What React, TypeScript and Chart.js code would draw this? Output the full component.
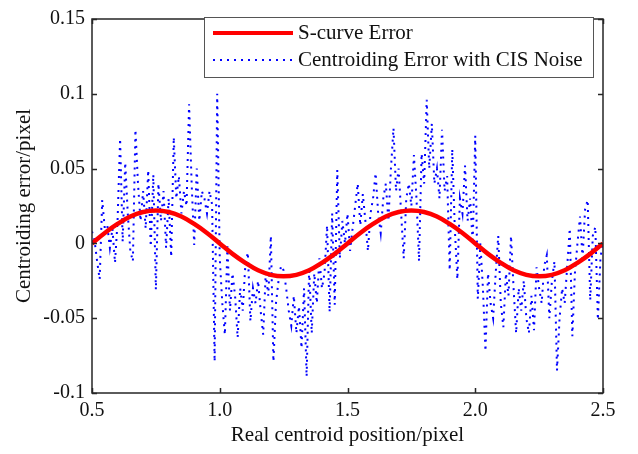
import React, { useEffect, useRef } from 'react';
import { Chart, registerables } from 'chart.js';

Chart.register(...registerables);

const xRange = [0.5, 2.5];
const yRange = [-0.1, 0.15];
const xTickLabels = ['0.5', '1.0', '1.5', '2.0', '2.5'];
const yTickLabels = ['-0.1', '-0.05', '0', '0.05', '0.1', '0.15'];
const seriesLabels = ['S-curve Error', 'Centroiding Error with CIS Noise'];
const axisTitles = ['Real centroid position/pixel', 'Centroiding error/pixel'];

const sCurveX = [
  0.5, 0.55, 0.6, 0.65, 0.7, 0.75, 0.8, 0.85, 0.9, 0.95,
  1.0, 1.05, 1.1, 1.15, 1.2, 1.25, 1.3, 1.35, 1.4, 1.45,
  1.5, 1.55, 1.6, 1.65, 1.7, 1.75, 1.8, 1.85, 1.9, 1.95,
  2.0, 2.05, 2.1, 2.15, 2.2, 2.25, 2.3, 2.35, 2.4, 2.45, 2.5,
];
const sCurveY = [
  0, 0.007, 0.013, 0.018, 0.021, 0.022, 0.021, 0.018, 0.013, 0.007,
  0, -0.007, -0.013, -0.018, -0.021, -0.022, -0.021, -0.018, -0.013, -0.007,
  0, 0.007, 0.013, 0.018, 0.021, 0.022, 0.021, 0.018, 0.013, 0.007,
  0, -0.007, -0.013, -0.018, -0.021, -0.022, -0.021, -0.018, -0.013, -0.007, 0,
];

// noisy samples, one every 0.01 pixel from 0.5 to 2.5
const noiseStartX = 0.5;
const noiseStepX = 0.01;
const noiseY = [
  0.008, 0.002, -0.012, -0.024, 0.029, 0.010, 0.012, -0.003, 0.010, -0.013,
  0.015, 0.070, 0.001, 0.054, 0.020, -0.005, -0.012, 0.076, 0.040, 0.015,
  0.035, 0.010, 0.049, -0.002, 0.046, -0.031, 0.040, 0.015, 0.035, -0.003,
  0.030, -0.009, 0.071, 0.030, 0.045, 0.020, 0.035, 0.025, 0.093, 0.040,
  -0.001, 0.050, 0.015, 0.035, 0.030, 0.020, 0.035, 0.026, -0.079, 0.100,
  -0.010, -0.040, -0.061, -0.002, -0.045, -0.020, -0.035, -0.063, -0.030, -0.045,
  -0.015, -0.006, -0.052, -0.030, -0.040, -0.025, -0.045, -0.061, -0.020, -0.035,
  0.005, -0.079, -0.040, -0.025, -0.015, -0.018, -0.030, -0.045, -0.055, -0.035,
  -0.060, -0.042, -0.070, -0.030, -0.089, -0.016, -0.060, -0.020, -0.040, -0.010,
  -0.030, -0.020, 0.012, -0.046, 0.020, -0.041, 0.049, -0.010, 0.015, 0.000,
  0.020, -0.005, 0.010, 0.025, 0.040, 0.012, 0.033, 0.015, -0.005, 0.020,
  0.030, 0.047, 0.020, 0.007, 0.030, 0.040, 0.015, 0.050, 0.077, 0.035,
  0.050, 0.020, -0.010, 0.030, 0.040, 0.025, 0.059, 0.030, -0.012, 0.060,
  0.040, 0.096, 0.050, 0.080, 0.040, 0.050, 0.030, 0.076, 0.035, 0.045,
  -0.018, 0.063, 0.010, -0.024, 0.030, 0.020, 0.052, 0.015, 0.030, 0.000,
  0.072, -0.037, 0.000, -0.030, -0.072, -0.020, -0.040, -0.050, -0.020, 0.005,
  -0.040, -0.056, -0.020, -0.035, 0.005, -0.030, -0.060, -0.030, -0.045, -0.025,
  -0.050, -0.060, -0.035, -0.058, -0.016, -0.030, -0.040, -0.015, -0.008, -0.050,
  -0.025, -0.012, -0.085, -0.050, -0.030, -0.040, -0.015, 0.010, -0.062, -0.020,
  0.000, 0.018, -0.010, 0.023, 0.029, -0.038, 0.005, 0.011, -0.051, -0.010,
  0.002,
];

const FONT = "'Liberation Serif', 'Times New Roman', serif";
const TEXT = '#111111';
const AXIS = '#262626';
const RED = '#ff0000';
const BLUE = '#0000ff';
const BLUE_DASH = [2, 5];

const framePlugin = {
  id: 'matlabFrame',
  afterDatasetsDraw(chart: any) {
    const { ctx, chartArea } = chart;
    const { left, right, top, bottom } = chartArea;
    const xs = chart.scales.x;
    const ys = chart.scales.y;
    const tl = 5;
    ctx.save();
    ctx.strokeStyle = AXIS;
    ctx.lineWidth = 1.5;
    ctx.setLineDash([]);
    ctx.strokeRect(left, top, right - left, bottom - top);
    ctx.beginPath();
    xs.ticks.forEach((t: any) => {
      const px = Math.round(xs.getPixelForValue(t.value)) + 0.5;
      ctx.moveTo(px, bottom);
      ctx.lineTo(px, bottom - tl);
      ctx.moveTo(px, top);
      ctx.lineTo(px, top + tl);
    });
    ys.ticks.forEach((t: any) => {
      const py = Math.round(ys.getPixelForValue(t.value)) + 0.5;
      ctx.moveTo(left, py);
      ctx.lineTo(left + tl, py);
      ctx.moveTo(right, py);
      ctx.lineTo(right - tl, py);
    });
    ctx.stroke();

    // legend
    const lx = 204, ly = 17, lw = 389, lh = 60;
    ctx.fillStyle = '#ffffff';
    ctx.fillRect(lx, ly, lw, lh);
    ctx.strokeStyle = '#555555';
    ctx.lineWidth = 1;
    ctx.strokeRect(lx + 0.5, ly + 0.5, lw, lh);
    const rows = [33, 60];
    chart.data.datasets.forEach((ds: any, i: number) => {
      const y = rows[i];
      ctx.save();
      ctx.strokeStyle = ds.borderColor;
      ctx.lineWidth = i === 0 ? 4 : 2;
      ctx.setLineDash(ds.borderDash || []);
      ctx.beginPath();
      ctx.moveTo(213, y);
      ctx.lineTo(293, y);
      ctx.stroke();
      ctx.restore();
      ctx.fillStyle = TEXT;
      ctx.font = `21px ${FONT}`;
      ctx.textBaseline = 'middle';
      ctx.textAlign = 'left';
      ctx.fillText(ds.label, 298, y);
    });
    ctx.restore();
  },
};

export default function App() {
  const canvasRef = useRef<HTMLCanvasElement | null>(null);

  useEffect(() => {
    document.body.style.margin = '0';
    const canvas = canvasRef.current;
    if (!canvas) return;
    const noiseData = noiseY.map((y, i) => ({ x: +(noiseStartX + i * noiseStepX).toFixed(2), y }));
    const sData = sCurveX.map((x, i) => ({ x, y: sCurveY[i] }));
    const chart = new Chart(canvas, {
      type: 'line',
      data: {
        datasets: [
          {
            label: seriesLabels[0],
            data: sData,
            borderColor: RED,
            backgroundColor: RED,
            borderWidth: 4.5,
            pointRadius: 0,
            tension: 0.4,
            fill: false,
          },
          {
            label: seriesLabels[1],
            data: noiseData,
            borderColor: BLUE,
            backgroundColor: BLUE,
            borderWidth: 2,
            borderDash: BLUE_DASH,
            pointRadius: 0,
            tension: 0,
            fill: false,
          },
        ],
      },
      options: {
        animation: false,
        responsive: false,
        devicePixelRatio: 1,
        layout: { padding: { left: 0, right: 35, top: 11, bottom: 0 } },
        plugins: { legend: { display: false }, tooltip: { enabled: false } },
        scales: {
          x: {
            type: 'linear',
            min: xRange[0],
            max: xRange[1],
            ticks: {
              stepSize: 0.5,
              autoSkip: false,
              maxRotation: 0,
              padding: 6,
              color: TEXT,
              font: { family: FONT, size: 20 },
              callback: (_v: any, i: number) => xTickLabels[i],
            },
            grid: { display: false, drawTicks: false },
            border: { display: false },
            title: {
              display: true,
              text: axisTitles[0],
              color: TEXT,
              font: { family: FONT, size: 21 },
              padding: { top: 0, bottom: 6 },
            },
            afterFit: (s: any) => {
              s.height = 61;
            },
          },
          y: {
            type: 'linear',
            min: yRange[0],
            max: yRange[1],
            ticks: {
              stepSize: 0.05,
              autoSkip: false,
              padding: 7,
              color: TEXT,
              font: { family: FONT, size: 20 },
              callback: (_v: any, i: number) => yTickLabels[i],
            },
            grid: { display: false, drawTicks: false },
            border: { display: false },
            title: {
              display: true,
              text: axisTitles[1],
              color: TEXT,
              font: { family: FONT, size: 21 },
              padding: { top: 12, bottom: 0 },
            },
            afterFit: (s: any) => {
              s.width = 92;
            },
          },
        },
      },
      plugins: [framePlugin],
    });
    return () => chart.destroy();
  }, []);

  return (
    <div style={{ position: 'absolute', left: 0, top: 0, width: 638, height: 454, background: '#fff' }}>
      <canvas ref={canvasRef} width={638} height={454} style={{ display: 'block' }} />
    </div>
  );
}
